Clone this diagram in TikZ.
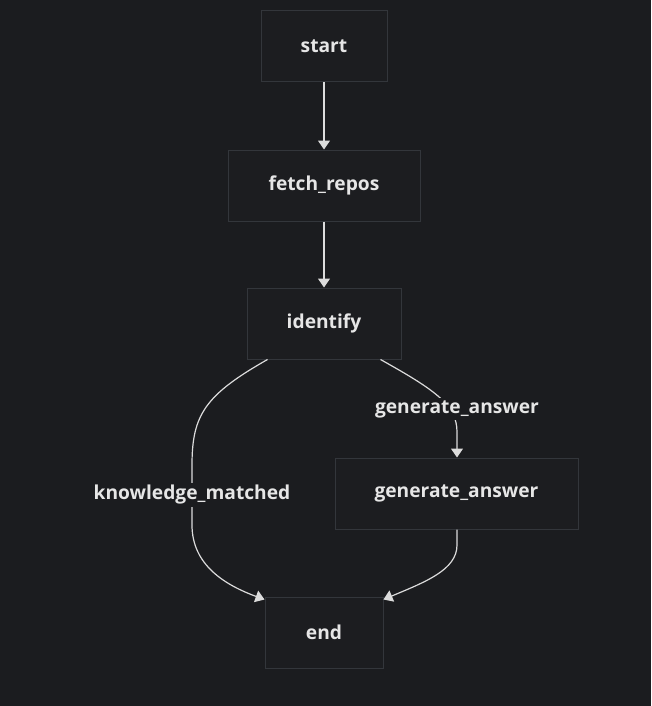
\documentclass[tikz,border=0pt]{standalone}
\usepackage{fontspec}
\setmainfont{Open Sans}
\usepackage{tikz}
\usetikzlibrary{arrows.meta, positioning, calc}

\definecolor{bgdark}{HTML}{1B1C1F}
\definecolor{boxfill}{HTML}{1C1D20}
\definecolor{boxline}{HTML}{33363B}
\definecolor{edgeline}{HTML}{DCDCDC}
\definecolor{labeltext}{HTML}{E6E6E6}

\begin{document}
\begin{tikzpicture}[
  x=1pt, y=-1pt,
  box/.style={rectangle, draw=boxline, fill=boxfill, line width=1pt, minimum height=71pt, text=labeltext, font=\fontsize{19.2}{22}\selectfont\bfseries},
  edgelabel/.style={fill=bgdark, text=labeltext, inner sep=2pt, font=\fontsize{19.2}{22}\selectfont\bfseries},
  arrow/.style={-{Triangle[length=9pt,width=12pt]}, draw=edgeline, line width=1.2pt}
]
  \fill[bgdark] (0,0) rectangle (651,706);
  \useasboundingbox (0,0) rectangle (651,706);

  \node[box, minimum width=126pt] (start) at (324,46.5) {start};
  \node[box, minimum width=192pt] (fetch) at (324,185.5) {fetch\_repos};
  \node[box, minimum width=154pt] (identify) at (324,323.5) {identify};
  \node[box, minimum width=243pt] (answer) at (456.5,493.5) {generate\_answer};
  \node[box, minimum width=118pt] (end) at (324,632.5) {end};

  \draw[arrow] (start) -- (fetch);
  \draw[arrow] (fetch) -- (identify);
  % identify branches
  \draw[arrow] ($(identify.south west)+(21,0)$) .. controls (205,395) and (192,415) .. (192,465)
    -- node[edgelabel] {knowledge\_matched} (192,525)
    .. controls (192,565) and (225,585) .. ($(end.north west)+(0,3)$);
  \draw[arrow] ($(identify.south east)+(-21,0)$) .. controls (435,390) and (457,405) .. (457,432)
    -- (answer.north -| 457,0);
  \node[edgelabel] (answerlabel) at (457,409) {generate\_answer};
  \draw[arrow] (answer.south -| 457,0) -- (457,545)
    .. controls (457,570) and (425,582) .. ($(end.north east)+(0,3)$);
\end{tikzpicture}
\end{document}
